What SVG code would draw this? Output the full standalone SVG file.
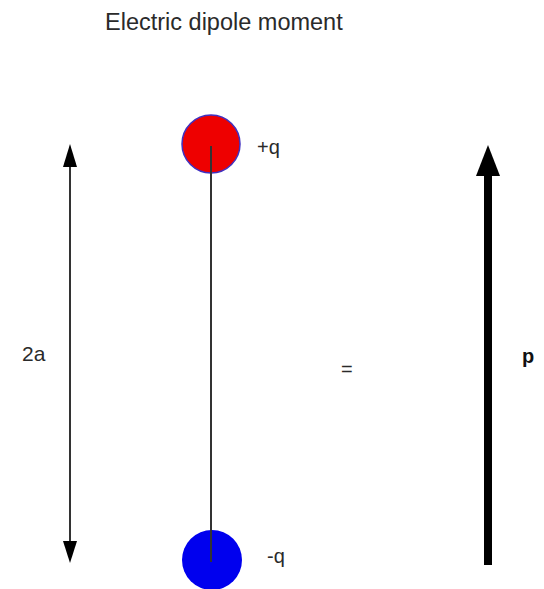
<svg xmlns="http://www.w3.org/2000/svg" width="544" height="589" viewBox="0 0 544 589">
<style>
text{font-family:"Liberation Sans",Arial,sans-serif;fill:#2a2a2a}
.lbl{font-size:20px}
.thin{stroke:#333;stroke-width:2;fill:none}
.head{fill:#000}
</style>
<rect width="544" height="589" fill="#fff"/>
<text x="105" y="30" style="font-size:23.5px">Electric dipole moment</text>
<g id="connectors">
<line class="thin" x1="70" y1="160" x2="70" y2="548"/>
<polygon class="head" points="70,144 63,167 77,167"/>
<polygon class="head" points="70,563 63,541 77,541"/>
<line class="thin" x1="211" y1="146" x2="211" y2="562"/>
<line x1="488" y1="170" x2="488" y2="565" stroke="#000" stroke-width="8"/>
<polygon class="head" points="488,145 476,176 500,176"/>
</g>
<g id="plus">
<circle cx="211" cy="144" r="29" fill="#ee0000" stroke="#4030c0" stroke-width="1.5"/>
<line class="thin" x1="211" y1="146" x2="211" y2="174"/>
<text class="lbl" x="257" y="154">+q</text>
</g>
<g id="minus">
<circle cx="212" cy="560" r="30" fill="#0000ee"/>
<line class="thin" x1="211" y1="530" x2="211" y2="562"/>
<text class="lbl" x="267" y="563">-q</text>
</g>
<g id="len"><text class="lbl" x="22" y="361" style="font-size:21px">2a</text></g>
<g id="eq"><text class="lbl" x="341" y="376">=</text></g>
<g id="p"><text class="lbl" x="522" y="363" style="font-weight:bold;fill:#111">p</text></g>
</svg>
